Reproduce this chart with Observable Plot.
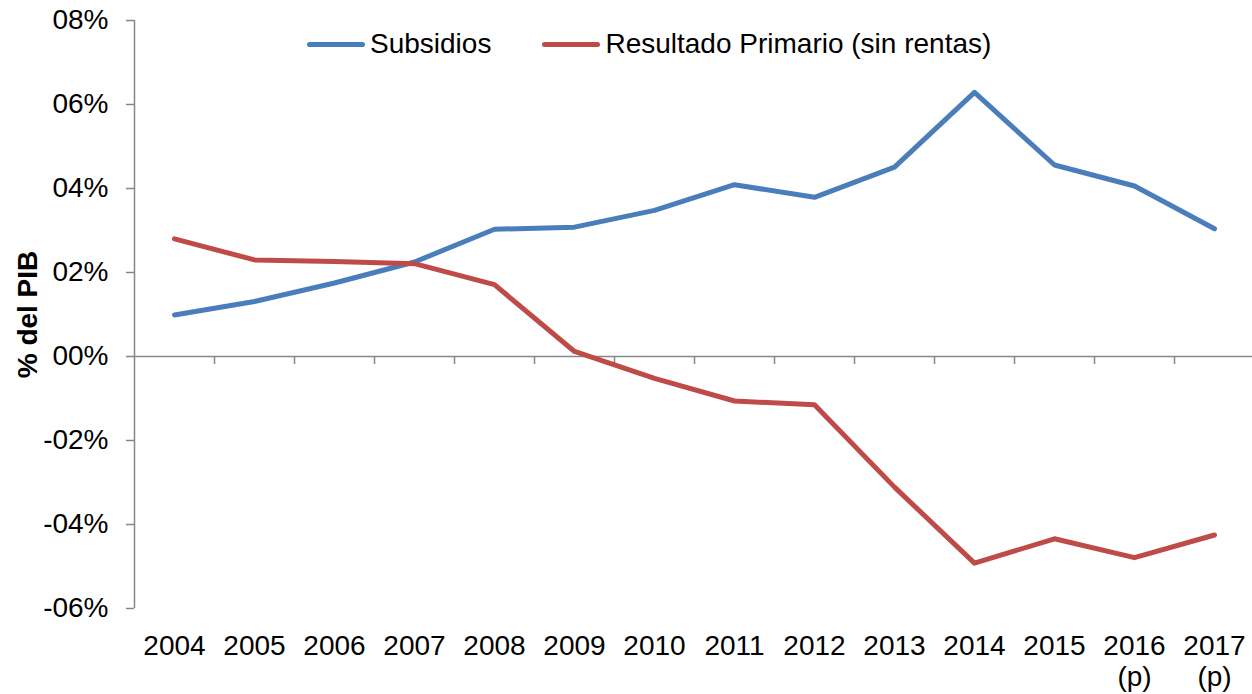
<!DOCTYPE html>
<html>
<head>
<meta charset="utf-8">
<script src="https://cdn.jsdelivr.net/npm/d3@7"></script>
<script src="https://cdn.jsdelivr.net/npm/@observablehq/plot@0.6"></script>
<style>
  html, body { margin: 0; padding: 0; background: #fff; }
  #wrap { position: relative; width: 1252px; height: 694px; font-family: "Liberation Sans", Arial, sans-serif; }
  #legend { position: absolute; left: 307px; top: 28px; height: 32px; display: flex; align-items: center; font-size: 28px; color: #000; }
  .item { display: flex; align-items: center; }
  .swatch { width: 58px; height: 5px; border-radius: 3px; margin-right: 5px; }
  .item + .item { margin-left: 51px; }
</style>
</head>
<body>
<div id="wrap"></div>
<script>
// ---- data ----
const years = ["2004","2005","2006","2007","2008","2009","2010","2011","2012","2013","2014","2015","2016\n(p)","2017\n(p)"];
const subsidios = [0.99, 1.31, 1.75, 2.25, 3.03, 3.08, 3.48, 4.09, 3.79, 4.51, 6.29, 4.56, 4.06, 3.04];
const resultado = [2.80, 2.30, 2.26, 2.21, 1.71, 0.12, -0.52, -1.06, -1.15, -3.11, -4.92, -4.34, -4.79, -4.25];
const seriesNames = ["Subsidios", "Resultado Primario (sin rentas)"];
const seriesColors = ["#4A7EBB", "#BE4B48"];
const yTicks = [-6, -4, -2, 0, 2, 4, 6, 8];
const yTickLabels = ["-06%", "-04%", "-02%", "00%", "02%", "04%", "06%", "08%"];
const yLabel = "% del PIB";

const idx = years.map((_, i) => i);
const boundaries = idx.slice(1).map(i => i - 0.5);
const axisGray = "#868686";

const chart = Plot.plot({
  width: 1252,
  height: 694,
  marginLeft: 134,
  marginRight: 0,
  marginTop: 20,
  marginBottom: 86,
  style: { fontFamily: "Liberation Sans, Arial, sans-serif", fontSize: "28px", color: "#000", background: "#fff" },
  x: { type: "linear", domain: [-0.5, years.length - 0.5], range: [134, 1254] },
  y: { domain: [-6, 8] },
  marks: [
    Plot.ruleX([-0.5], { stroke: axisGray, strokeWidth: 1.5 }),
    Plot.ruleY([0], { stroke: axisGray, strokeWidth: 1.5 }),
    Plot.ruleX(boundaries, { x: d => d, y1: 0, y2: 0, insetBottom: -8, stroke: axisGray, strokeWidth: 1.5 }),
    Plot.axisY({ ticks: yTicks, tickFormat: d => yTickLabels[yTicks.indexOf(d)], tickSize: 8, tickPadding: 18, stroke: axisGray, strokeWidth: 1.5, fill: "#000", fontSize: 28, label: null }),
    Plot.axisX({ ticks: idx, tickFormat: i => years[i], tickSize: 0, tickPadding: 25, fill: "#000", fontSize: 28, lineHeight: 1.1, label: null }),
    Plot.text([yLabel], { text: d => d, frameAnchor: "left", textAnchor: "middle", rotate: -90, dx: -106, fontWeight: "bold", fontSize: 28, fill: "#000" }),
    Plot.lineY(subsidios, { x: (d, i) => i, y: d => d, stroke: seriesColors[0], strokeWidth: 5 }),
    Plot.lineY(resultado, { x: (d, i) => i, y: d => d, stroke: seriesColors[1], strokeWidth: 5 })
  ]
});

const wrap = document.getElementById("wrap");
wrap.appendChild(chart);
const legend = document.createElement("div");
legend.id = "legend";
seriesNames.forEach((name, i) => {
  const item = document.createElement("div");
  item.className = "item";
  const sw = document.createElement("span");
  sw.className = "swatch";
  sw.style.background = seriesColors[i];
  const t = document.createElement("span");
  t.textContent = name;
  item.appendChild(sw);
  item.appendChild(t);
  legend.appendChild(item);
});
wrap.appendChild(legend);
</script>
</body>
</html>
